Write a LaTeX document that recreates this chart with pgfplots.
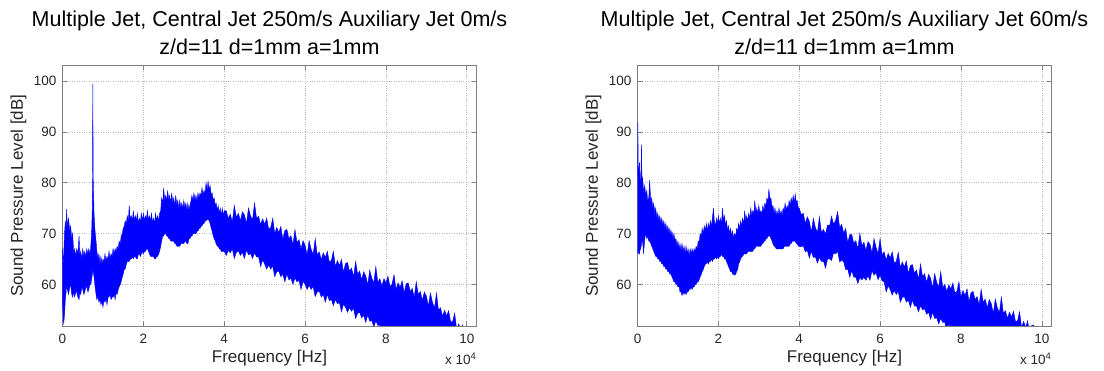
\documentclass[border=0pt]{standalone}
\usepackage{fontspec}
\setmainfont{Liberation Sans}
\usepackage{pgfplots}
\pgfplotsset{compat=1.18}
\usepackage{pgfplotstable}
\usepgfplotslibrary{fillbetween}

% Left: Central Jet 250 m/s, Auxiliary Jet 0 m/s  (x in 1e4 Hz, u/l = upper/lower envelope in dB)
\pgfplotstableread{
x u l
0.00 67 57
0.02 63 53
0.03 66 52.3
0.05 70 54
0.07 72.5 57
0.09 70.5 58.5
0.10 74.8 60
0.12 71.5 59
0.15 73 58
0.18 70.5 59.5
0.20 71.5 60
0.23 69 58
0.25 70 57.5
0.28 66 58.5
0.30 67 57.5
0.33 65.5 58.5
0.35 67 58.5
0.38 66 57.5
0.41 69.5 57
0.43 65.5 58.5
0.45 66.5 58
0.48 65 59.5
0.50 67 59
0.53 65.5 58
0.55 66.5 58.5
0.58 65.5 59.5
0.60 67 59.5
0.63 66 58.5
0.65 67 59
0.68 66 60
0.70 67.5 60
0.72 70 61
0.74 76 62
0.75 99.5 63
0.76 80.9 62.5
0.78 74 61.5
0.80 71 60
0.83 68.5 58
0.85 66.5 57
0.88 65 57.5
0.90 66 56.5
0.93 64 57
0.95 65.5 56
0.98 64 56.5
1.00 65 55.5
1.03 64.5 57
1.05 66 56.5
1.08 64.5 57
1.10 65.5 56
1.13 65 57.5
1.15 66.5 57.5
1.18 65 58
1.20 66 57
1.23 65.5 57.5
1.25 67 57.5
1.28 66 58
1.30 67 57
1.33 66.5 58.5
1.35 67.5 58
1.38 67 59
1.40 68.5 59.5
1.43 68 60
1.45 69.5 60.5
1.48 70 61.5
1.50 71 62
1.53 71.5 63
1.55 72.5 63
1.58 72 64
1.60 73.5 64.5
1.63 72.5 64.5
1.65 75.5 64.5
1.68 72.5 65
1.70 73.5 65
1.73 72.5 65.5
1.75 74.5 65
1.78 72.5 65.5
1.80 73.5 65.5
1.83 72.5 65
1.85 74 65
1.88 72 66
1.90 73 66
1.93 72.5 65.5
1.95 74 66
1.98 72.5 66.5
2.00 74 66
2.03 72.5 66.5
2.05 73.5 66.5
2.08 73 67
2.10 74.5 67
2.13 72.5 66.5
2.15 73.5 66
2.18 72.5 65.5
2.20 74 65.5
2.23 72 65.5
2.25 73 65.5
2.28 72 65
2.30 74 65
2.33 72.5 65.5
2.35 73.5 65.5
2.38 72.5 66
2.40 74 66.5
2.43 74.5 67.5
2.45 77 68.5
2.48 76 69.5
2.50 79 69.5
2.53 76.5 70
2.55 77.5 70
2.58 76.5 69.5
2.60 78.5 69.5
2.63 76.5 69
2.65 77.5 69
2.68 76 68.5
2.70 78 68.5
2.73 76 68.5
2.75 77 68.5
2.78 75.5 68
2.80 77.5 68
2.83 75.5 67.5
2.85 76.5 67.5
2.88 75 67.5
2.90 76.5 67.5
2.93 75 68
2.95 76 68
2.98 75 68
3.00 76.5 68
3.03 75 68.5
3.05 76 68.5
3.08 74.5 68
3.10 76 68
3.13 74.5 69
3.15 75.5 69
3.18 76.5 69.5
3.20 77.5 69.5
3.23 76.5 70
3.25 78 70
3.28 76.5 70
3.30 77.5 70
3.33 76.5 70.5
3.35 78 70.5
3.38 77 71
3.40 78 71
3.43 77.5 71.5
3.45 79 71.5
3.48 77.5 72
3.50 78.5 72
3.53 78 72.5
3.55 80 72.5
3.58 78.5 72.8
3.60 80.3 72.8
3.63 78.5 72.5
3.65 79.5 72
3.68 77.5 71
3.70 78 70.5
3.73 76.5 69.5
3.75 77 69
3.78 75.5 68.5
3.80 76 68
3.83 74.5 67.5
3.85 75.5 67.5
3.88 74 67
3.90 75 67
3.93 73.5 66.5
3.95 75 66.5
3.98 73.5 66.5
4.00 74.5 66.5
4.05 74.5 65.7
4.10 73.0 66.7
4.15 73.8 66.2
4.20 72.3 67.0
4.25 75.5 65.1
4.30 73.2 66.3
4.35 74.0 66.6
4.40 72.5 65.7
4.45 74.3 66.3
4.50 73.7 65.1
4.55 72.0 66.8
4.60 75.0 65.8
4.65 73.5 66.1
4.70 72.7 65.1
4.75 76.0 66.2
4.80 73.0 65.4
4.85 73.4 65.4
4.90 71.8 63.5
4.95 72.9 64.8
5.00 71.8 64.0
5.05 73.0 63.0
5.10 70.9 63.8
5.15 71.2 63.0
5.20 73.0 63.6
5.25 70.0 61.5
5.30 71.2 62.5
5.35 70.2 62.6
5.40 71.4 61.5
5.45 68.9 62.0
5.50 70.6 60.5
5.55 70.8 62.0
5.60 69.0 60.9
5.65 69.6 61.2
5.70 67.8 60.0
5.75 70.8 61.3
5.80 68.2 60.5
5.85 68.8 60.8
5.90 67.0 59.0
5.95 68.6 60.6
6.00 67.7 60.0
6.05 65.8 59.0
6.10 68.6 59.8
6.15 66.9 59.0
6.20 65.9 59.6
6.25 69.0 57.6
6.30 65.8 58.5
6.35 66.4 58.7
6.40 64.9 57.5
6.45 66.2 58.0
6.50 65.3 56.5
6.55 66.5 58.0
6.60 64.4 56.8
6.65 64.7 57.0
6.70 66.5 55.8
6.75 63.5 57.0
6.80 64.7 56.2
6.85 63.7 56.4
6.90 64.9 54.6
6.95 62.4 56.1
7.00 64.1 55.5
7.05 64.3 54.5
7.10 62.6 55.4
7.15 63.2 54.7
7.20 61.5 55.3
7.25 64.5 53.3
7.30 62.0 54.3
7.35 62.6 54.5
7.40 60.9 53.4
7.45 62.5 53.9
7.50 61.7 52.5
7.55 59.9 54.0
7.60 62.8 52.7
7.65 61.2 52.9
7.70 60.3 51.6
7.75 63.5 52.8
7.80 60.4 51.9
7.85 61.1 52.0
7.90 59.7 50.2
7.95 61.1 51.6
8.00 60.3 51.0
8.05 61.6 50.5
8.10 59.6 50.5
8.15 60.0 50
8.20 61.9 50
8.25 59.0 50
8.30 60.3 50
8.35 59.4 50
8.40 60.7 50
8.45 58.3 50
8.50 60.1 50
8.55 60.3 50
8.60 58.6 50
8.65 59.2 50
8.70 57.5 50
8.75 60.5 50
8.80 58.0 50
8.85 58.6 50
8.90 56.9 50
8.95 58.5 50
9.00 57.7 50
9.05 55.7 50
9.10 58.3 50
9.15 56.5 50
9.20 55.3 50
9.25 58.3 50
9.30 54.9 50
9.35 55.4 50
9.40 53.7 50
9.45 54.9 50
9.50 53.8 50
9.55 54.8 50
9.60 52.6 50
9.65 52.7 50
9.70 54.3 50
9.75 51.1 50
9.80 52.2 50
9.85 51.0 50
9.90 52.0 50
9.95 50 50
}\leftdata

% Right: Central Jet 250 m/s, Auxiliary Jet 60 m/s
\pgfplotstableread{
x u l
0.00 80 66
0.01 91.8 67
0.02 80 66
0.03 82.5 67
0.05 84 66
0.07 79 67.5
0.08 80 67
0.10 87.5 68
0.11 80 69
0.13 81 68
0.15 78 66
0.18 79.5 69
0.20 77.5 70
0.23 78.5 69
0.25 76.5 69.5
0.28 77 68.5
0.30 80.5 68.5
0.33 76 68
0.35 77 67.5
0.38 75 67
0.40 76 66.5
0.43 74 66
0.45 75 65.5
0.48 73 65.5
0.50 74 65
0.53 72.5 65
0.55 73.5 64.5
0.58 72 64.5
0.60 73 64
0.63 71.5 64
0.65 72.5 63.5
0.68 71 63.5
0.70 72 63
0.73 70.5 63
0.75 71.5 62.5
0.78 70 62.5
0.80 71 62
0.83 69.5 62
0.85 70.5 61.5
0.88 69 61
0.90 70 60.5
0.93 68.5 60.5
0.95 69 60
0.98 67.5 60
1.00 68.5 59.5
1.03 67 59.5
1.05 68 58.5
1.08 66.5 58.5
1.10 68 57.8
1.13 66.5 58.5
1.15 67.5 58
1.18 66 58.5
1.20 67.5 58
1.23 66 58.5
1.25 67 58.5
1.28 65.5 59
1.30 67 59
1.33 66 59.5
1.35 67 59
1.38 66 59.5
1.40 67 59.5
1.43 66.5 60
1.45 67.5 60
1.48 67 60.5
1.50 68.5 60.5
1.53 68.5 61
1.55 70 61.5
1.58 69.5 62
1.60 71 62.5
1.63 70 63
1.65 71.5 63.5
1.68 70.5 64
1.70 72 64
1.73 70.5 64.5
1.75 72 64
1.78 71 64.5
1.80 72.5 64.5
1.83 71.5 65
1.85 73 64.5
1.88 75 65
1.90 72.5 65
1.93 71.5 65.5
1.95 73 65
1.98 72 65.5
2.00 73.5 65
2.03 72 65.5
2.05 73 65.5
2.08 72 66
2.10 75 65.5
2.13 72.5 65.5
2.15 73.5 65
2.18 71.5 65
2.20 72.5 64.5
2.23 70.5 64
2.25 71.5 63.5
2.28 70 63
2.30 71 62.5
2.33 69.5 62.5
2.35 70.5 62
2.38 69 62
2.40 70 61.8
2.43 69.5 62
2.45 71 62.5
2.48 70.5 63
2.50 72 64
2.53 71 64.5
2.55 72.5 65
2.58 71.5 65.5
2.60 73 65.5
2.63 72 66
2.65 74.5 66
2.68 72.5 66
2.70 73.5 66
2.73 72.5 66.5
2.75 74 66.5
2.78 73 66.5
2.80 75 66.5
2.83 73.5 66.5
2.85 74.5 66.5
2.88 74 67
2.90 76.5 67
2.93 74 67.5
2.95 75 67.5
2.98 74 67.5
3.00 75.5 67.5
3.03 74 67.5
3.05 74.5 67.5
3.08 74 68
3.10 75.5 68
3.13 74.5 68.5
3.15 76 68.5
3.18 75.5 69
3.20 77 69
3.23 76.5 69.5
3.25 78.8 69.5
3.28 76.5 69.5
3.30 77 69
3.33 75 68.5
3.35 75.5 68
3.38 74 67.5
3.40 75 67.5
3.43 73.5 67
3.45 74.5 67
3.48 73.5 67
3.50 75 67
3.53 73.5 67
3.55 74.5 67
3.58 73.5 67
3.60 75 67
3.63 74.5 67.5
3.65 76 67.5
3.68 74.5 67.5
3.70 75.5 67.5
3.73 75 67.5
3.75 76.5 67.5
3.78 75.5 68
3.80 77 68
3.83 76 68.5
3.85 77.5 68.5
3.88 76 68.5
3.90 77.8 68.5
3.93 76 68
3.95 76.5 68
3.98 75 67.5
4.00 75 67.5
4.05 73.7 67.4
4.10 74.0 67.6
4.15 72.0 66.4
4.20 73.3 66.7
4.25 72.4 65.2
4.30 70.3 66.5
4.35 73.0 65.3
4.40 71.2 65.4
4.45 70.2 64.2
4.50 73.3 65.3
4.55 70.2 64.5
4.60 70.8 64.6
4.65 69.9 63.2
4.70 71.7 65.0
4.75 71.5 65.0
4.80 73.4 64.7
4.85 71.8 66.2
4.90 72.6 66.0
4.95 74.3 66.5
5.00 71.2 64.4
5.05 71.8 64.8
5.10 70.1 64.4
5.15 71.0 62.9
5.20 68.2 63.0
5.25 69.8 61.4
5.30 69.8 62.7
5.35 68.1 61.4
5.40 68.6 61.4
5.45 67.0 60.2
5.50 70.0 61.3
5.55 67.6 60.9
5.60 68.3 61.4
5.65 66.7 60.8
5.70 68.4 61.7
5.75 67.9 60.8
5.80 66.2 62.7
5.85 69.0 61.8
5.90 67.3 62.3
5.95 66.1 60.9
6.00 69.0 61.8
6.05 65.8 60.7
6.10 66.4 60.5
6.15 64.8 58.5
6.20 66.1 59.7
6.25 65.2 59.0
6.30 66.4 57.9
6.35 64.2 58.8
6.40 64.5 58.0
6.45 66.3 58.6
6.50 63.3 56.5
6.55 64.4 57.4
6.60 63.4 57.6
6.65 64.6 56.5
6.70 62.1 56.9
6.75 63.7 55.5
6.80 63.9 56.9
6.85 62.2 55.7
6.90 62.8 55.8
6.95 61.0 54.6
7.00 64.0 55.8
7.05 61.5 55.0
7.10 62.1 55.2
7.15 60.4 54.1
7.20 62.0 54.5
7.25 61.2 53.1
7.30 59.3 54.5
7.35 62.1 53.3
7.40 60.4 53.4
7.45 59.4 52.2
7.50 62.5 53.3
7.55 59.4 52.5
7.60 60.0 52.6
7.65 58.6 50.8
7.70 59.9 52.2
7.75 59.1 51.5
7.80 60.3 50.5
7.85 58.3 51.1
7.90 58.6 50.8
7.95 60.5 50.6
8.00 57.5 50.4
8.05 58.8 50
8.10 57.8 50
8.15 59.1 50
8.20 56.6 50
8.25 58.4 50
8.30 58.6 50
8.35 57.0 50
8.40 57.6 50
8.45 56.0 50
8.50 59.0 50
8.55 56.5 50
8.60 57.1 50
8.65 55.4 50
8.70 57.0 50
8.75 56.2 50
8.80 54.3 50
8.85 57.1 50
8.90 55.4 50
8.95 54.4 50
9.00 57.5 50
9.05 54.3 50
9.10 54.8 50
9.15 53.3 50
9.20 54.5 50
9.25 53.6 50
9.30 54.7 50
9.35 52.6 50
9.40 52.8 50
9.45 54.6 50
9.50 51.5 50
9.55 52.7 50
9.60 51.6 50
9.65 52.8 50
9.70 50.2 50
9.75 51.9 50
9.80 52.0 50
9.85 50 50
}\rightdata

\definecolor{spine}{RGB}{128,128,128}
\definecolor{gridc}{RGB}{185,185,185}
\definecolor{lab}{RGB}{38,38,38}
\definecolor{mblue}{RGB}{0,0,255}

\pgfplotsset{
  spec/.style={
    scale only axis, width=414pt, height=260.5pt,
    xmin=0, xmax=10.24, ymin=51.8, ymax=103.1,
    xtick={0,2,4,6,8,10}, ytick={60,70,80,90,100},
    tick align=inside, tick pos=both, major tick length=5pt,
    xticklabel pos=bottom, yticklabel pos=left,
    grid=major, major grid style={dotted, color=gridc, line width=0.6pt},
    axis line style={spine, line width=0.7pt},
    every tick/.style={spine, line width=0.6pt},
    tick label style={font=\fontsize{13.5}{16}\selectfont, text=lab},
    /pgf/number format/assume math mode=true,
    xticklabel style={anchor=base, yshift=-17.3pt},
    yticklabel style={anchor=east, inner sep=0pt, xshift=-6pt},
    scaled x ticks=false,
    clip mode=individual,
    every axis x label/.style={at={(axis description cs:0.5,-0.142)}, anchor=base,
      font=\fontsize{17}{20}\selectfont, text=lab},
    every axis y label/.style={at={(axis description cs:-0.1063,0.5)}, anchor=center,
      rotate=90, font=\fontsize{17}{20}\selectfont, text=lab},
    xlabel={Frequency [Hz]},
    ylabel={Sound Pressure Level [dB]},
  }
}

\begin{document}
\begin{tikzpicture}
\begin{axis}[spec, at={(0pt,0pt)}, anchor=south west]
  \addplot[draw=mblue, line width=0.4pt, name path=UA] table[x=x,y=u]{\leftdata};
  \addplot[draw=mblue, line width=0.4pt, name path=LA] table[x=x,y=l]{\leftdata};
  \addplot[fill=mblue, draw=none] fill between[of=UA and LA];
  \node[anchor=base, font=\fontsize{21.5}{26}\selectfont] at (axis description cs:0.5,1.1516)
    {Multiple Jet, Central Jet 250m/s Auxiliary Jet 0m/s};
  \node[anchor=base, font=\fontsize{21.5}{26}\selectfont] at (axis description cs:0.5,1.0403)
    {z/d=11 d=1mm a=1mm};
  \node[anchor=base east, font=\fontsize{13.5}{16}\selectfont, text=lab, inner sep=0pt]
    at (axis description cs:1.0,-0.1497) {x 10\textsuperscript{4}};
\end{axis}
\begin{axis}[spec, at={(575pt,0pt)}, anchor=south west]
  \addplot[draw=mblue, line width=0.4pt, name path=UB] table[x=x,y=u]{\rightdata};
  \addplot[draw=mblue, line width=0.4pt, name path=LB] table[x=x,y=l]{\rightdata};
  \addplot[fill=mblue, draw=none] fill between[of=UB and LB];
  \node[anchor=base, font=\fontsize{21.5}{26}\selectfont] at (axis description cs:0.5,1.1516)
    {Multiple Jet, Central Jet 250m/s Auxiliary Jet 60m/s};
  \node[anchor=base, font=\fontsize{21.5}{26}\selectfont] at (axis description cs:0.5,1.0403)
    {z/d=11 d=1mm a=1mm};
  \node[anchor=base east, font=\fontsize{13.5}{16}\selectfont, text=lab, inner sep=0pt]
    at (axis description cs:1.0,-0.1497) {x 10\textsuperscript{4}};
\end{axis}
\pgfresetboundingbox
\path[use as bounding box] (-62.5pt,-45pt) rectangle (1041.5pt,326pt);
\end{tikzpicture}
\end{document}
